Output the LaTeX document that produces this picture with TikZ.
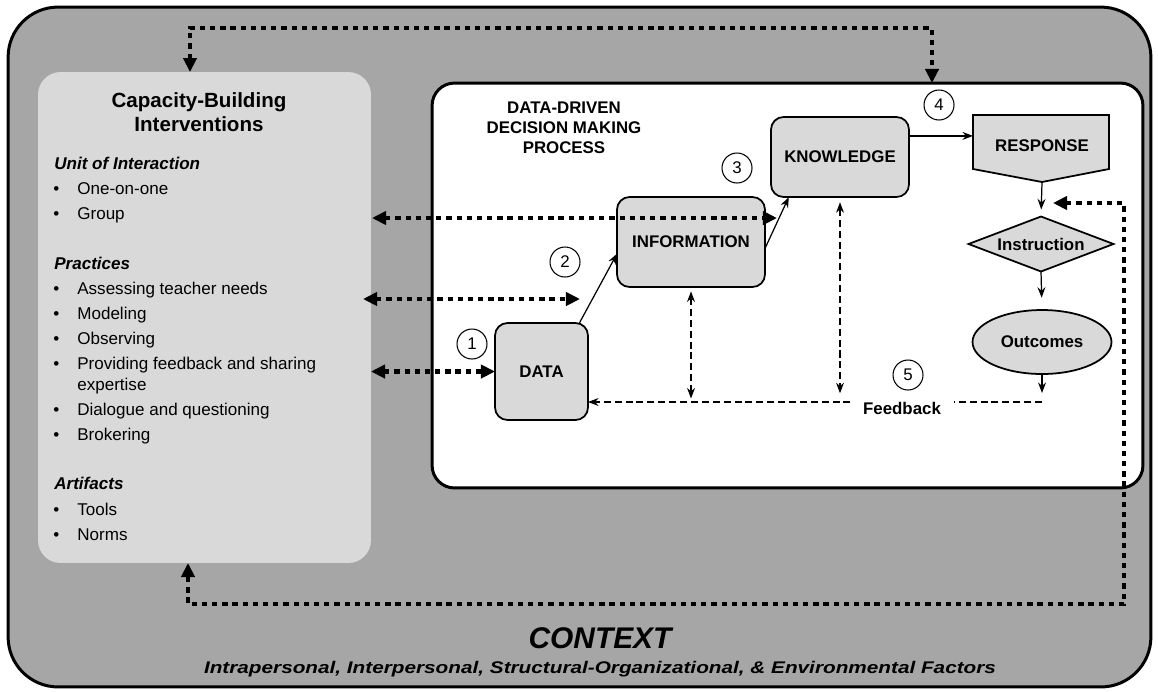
\documentclass[tikz,border=0pt]{standalone}
\usepackage{fontspec}
\setmainfont{Liberation Sans}
\usepackage{xcolor}
\usepackage{graphicx}
\usetikzlibrary{arrows.meta, shapes.geometric}

\definecolor{ctxgray}{HTML}{A6A6A6}
\definecolor{boxgray}{HTML}{D9D9D9}

\tikzset{
  >={Stealth[length=6pt,width=4.5pt,inset=2pt]},
  stage/.style={draw, fill=boxgray, line width=1pt, rounded corners=0.25cm, inner sep=0pt, outer sep=0pt,
    font=\bfseries\fontsize{9.6}{11.3}\selectfont},
  stepnum/.style={draw, circle, line width=0.6pt, minimum size=0.6cm, inner sep=0pt, fill=white,
    font=\fontsize{9.6}{11}\selectfont},
  flow/.style={line width=0.7pt, ->},
  fback/.style={line width=0.6pt, dash pattern=on 4pt off 2.2pt},
  bigdot/.style={line width=2.6pt, dash pattern=on 3pt off 2.8pt,
    {Triangle[length=8pt,width=7.5pt]}-{Triangle[length=8pt,width=7.5pt]}},
  listitem/.style={anchor=base west, inner sep=0pt, font=\fontsize{9.7}{12}\selectfont},
  listhead/.style={anchor=base west, inner sep=0pt, font=\bfseries\itshape\fontsize{9.7}{12}\selectfont},
}

\begin{document}
\begin{tikzpicture}[x=0.02cm, y=-0.02cm]
        \useasboundingbox (0,0) rectangle (1158,691);

        \node[draw, fill=ctxgray, line width=1.7pt, rounded corners=1cm, minimum width=22.86cm, minimum height=13.6cm,
          inner sep=0pt, outer sep=0pt] (ctx) at (579.5,347) {};
        \node[fill=boxgray, rounded corners=0.45cm, minimum width=6.66cm, minimum height=9.82cm,
          inner sep=0pt, outer sep=0pt] (capbox) at (204.5,317.5) {};
        \node[draw, fill=white, line width=1.7pt, rounded corners=0.45cm, minimum width=14.22cm, minimum height=8.1cm,
          inner sep=0pt, outer sep=0pt] (ddm) at (787.5,285.5) {};

        \node[align=center, font=\bfseries\fontsize{11.7}{13.6}\selectfont] (captitle) at (199,112) {Capacity-Building\\Interventions};
        \node[listhead] (unithead) at (54,169) {Unit of Interaction};
        \node[listhead] (prachead) at (54,269) {Practices};
        \node[listhead] (arthead) at (54,489) {Artifacts};
        \foreach \y/\txt in {188/One-on-one, 213/Group, 288/Assessing teacher needs, 313/Modeling, 338/Observing,
          363/Providing feedback and sharing, 409/Dialogue and questioning, 434/Brokering, 509/Tools, 534/Norms} {
            \node[listitem] (bul\y) at (53,\y+6) {•};
            \node[listitem] (item\y) at (77,\y+6) {\txt};
        }
        \node[listitem] (item384) at (77,390) {expertise};

        \node[align=center, font=\bfseries\fontsize{9.6}{11.3}\selectfont] (ddmtitle) at (564,128) {DATA-DRIVEN\\DECISION MAKING\\PROCESS};

        \node[stage, minimum width=1.86cm, minimum height=1.94cm] (data) at (541.5,371.5) {DATA};
        \node[stage, minimum width=2.96cm, minimum height=1.8cm] (info) at (691,242) {INFORMATION};
        \node[stage, minimum width=2.76cm, minimum height=1.6cm] (know) at (840,157) {KNOWLEDGE};
        \draw[fill=boxgray, line width=1pt] (973,115) -- (1109,115) -- (1109,169) -- (1042,182) -- (973,169) -- cycle;
        \node[font=\bfseries\fontsize{9.6}{11.3}\selectfont] (resp) at (1042,146) {RESPONSE};
        \coordinate (resp west) at (973,136);
        \coordinate (resp tip) at (1042,182);
        \node[stage, diamond, rounded corners=0pt, aspect=2.64, minimum width=2.9cm, minimum height=1.1cm] (instr) at (1041,244) {Instruction};
        \node[stage, ellipse, rounded corners=0pt, minimum width=2.78cm, minimum height=1.28cm] (outc) at (1042,342) {Outcomes};

        \node[stepnum] (n1) at (472,344) {1};
        \node[stepnum] (n2) at (565,262) {2};
        \node[stepnum] (n3) at (737,168) {3};
        \node[stepnum] (n4) at (939,105) {4};
        \node[stepnum] (n5) at (908,375) {5};

        \draw[flow] (data.52) -- (info.189);
        \draw[flow] (info.-5) -- (know.218);
        \draw[flow] (know.17) -- (know.17 -| resp west);
        \draw[flow, shorten >=4pt] (resp tip) -- (instr.north);
        \draw[flow, shorten >=7pt] (instr.south) -- (outc.north);
        \coordinate (fbr) at (1042,402);
        \draw[flow] (outc.south) -- ([yshift=-0.38cm]outc.south);

        \node[font=\bfseries\fontsize{9.6}{11.3}\selectfont, inner sep=7pt] (fb) at (902,408) {Feedback};
        \draw[fback] (fbr) -- (fb.east |- fbr);
        \draw[fback, ->] (fb.west |- fbr) -- (data.east |- fbr);
        \draw[fback, <->, shorten <=2.5pt, shorten >=2pt] (info.south) -- (info.south |- fbr);
        \draw[fback, <->, shorten <=3pt, shorten >=5pt] (know.south) -- (know.south |- fbr);

        \coordinate (grpL) at (372,218);
        \coordinate (grpR) at (777,218);
        \coordinate (pracL) at (363,299);
        \coordinate (pracR) at (580,299);
        \coordinate (topA) at (190,28);
        \coordinate (topB) at (932,28);
        \coordinate (instrIn) at (1053,203);
        \coordinate (botA) at (1124,203);
        \coordinate (botB) at (1124,604);
        \coordinate (botC) at (188,604);
        \draw[bigdot] (capbox.north -| topA) -- (topA) -- (topB) -- (ddm.north -| topB);
        \draw[bigdot] (grpL) -- (grpR);
        \draw[bigdot] (pracL) -- (pracR);
        \draw[bigdot] (capbox.east |- data.west) -- (data.west);
        \draw[bigdot] (instrIn) -- (botA) -- (botB) -- (botC) -- (capbox.south -| botC);

        \node[font=\bfseries\itshape\fontsize{17}{20}\selectfont] (ctxtitle) at (600,638) {CONTEXT};
        \node[font=\bfseries\itshape\fontsize{9.6}{11.3}\selectfont] (ctxsub) at (600,669)
          {\scalebox{1.23}[1]{Intrapersonal, Interpersonal, Structural-Organizational, \& Environmental Factors}};
    \end{tikzpicture}
\end{document}
